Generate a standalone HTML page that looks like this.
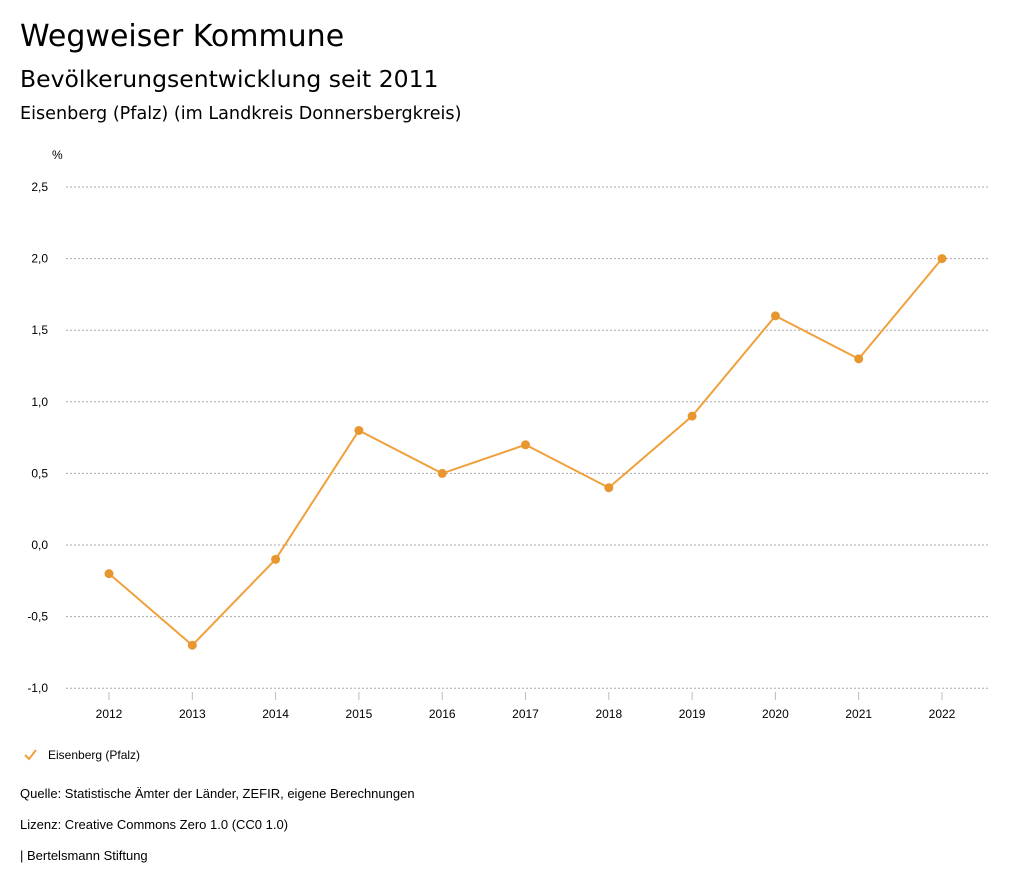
<!DOCTYPE html>
<html><head><meta charset="utf-8"><style>
body{margin:0;background:#fff;font-family:"Liberation Sans",sans-serif;color:#000}
.t{position:absolute;white-space:nowrap}
.d{font-family:"DejaVu Sans",sans-serif}
</style></head><body>
<div style="position:relative;width:1024px;height:888px;overflow:hidden">
<div class="t d" style="left:20px;top:19px;font-size:30px">Wegweiser Kommune</div>
<div class="t d" style="left:20px;top:65px;font-size:23.5px">Bevölkerungsentwicklung seit 2011</div>
<div class="t d" style="left:20px;top:104px;font-size:17.6px">Eisenberg (Pfalz) (im Landkreis Donnersbergkreis)</div>
<svg id="c" width="1024" height="888" style="position:absolute;left:0;top:0"></svg>
<div class="t" style="left:20px;top:786px;font-size:13px">Quelle: Statistische Ämter der Länder, ZEFIR, eigene Berechnungen</div>
<div class="t" style="left:20px;top:817px;font-size:13px">Lizenz: Creative Commons Zero 1.0 (CC0 1.0)</div>
<div class="t" style="left:20px;top:848px;font-size:13px">| Bertelsmann Stiftung</div>
</div>
<script>
const years=[2012,2013,2014,2015,2016,2017,2018,2019,2020,2021,2022];
const values=[-0.2,-0.7,-0.1,0.8,0.5,0.7,0.4,0.9,1.6,1.3,2.0];
const yTicks=[2.5,2.0,1.5,1.0,0.5,0.0,-0.5,-1.0];
const yTickLabels=["2,5","2,0","1,5","1,0","0,5","0,0","-0,5","-1,0"];
const NS="http://www.w3.org/2000/svg",svg=document.getElementById('c');
const x=i=>109+i*83.3;
const y=v=>545-v*143.2;
function mk(t,a){const e=document.createElementNS(NS,t);for(const k in a)e.setAttribute(k,a[k]);svg.appendChild(e);return e;}
const u=mk('text',{x:52,y:159,'font-size':12,'font-family':'Liberation Sans'});u.textContent='%';


yTicks.forEach((v,i)=>{
 const g=mk('line',{x1:66,x2:990,y1:y(v),y2:y(v),stroke:'#aaa','stroke-dasharray':'2,2','stroke-width':1});
 
 
 const t=mk('text',{x:48,y:y(v)+4,'text-anchor':'end','font-size':12,'font-family':'Liberation Sans'});t.textContent=yTickLabels[i];
 
 
});
years.forEach((yr,i)=>{
 const l=mk('line',{x1:x(i),x2:x(i),y1:692,y2:700,stroke:'#bbb'});
 
 
 const t=mk('text',{x:x(i),y:718,'text-anchor':'middle','font-size':12,'font-family':'Liberation Sans'});t.textContent=yr;
 
 
});
const p=mk('polyline',{points:values.map((v,i)=>x(i)+','+y(v)).join(' '),fill:'none',stroke:'#f0a03c','stroke-width':2});


values.forEach((v,i)=>{
 const c=mk('circle',{cx:x(i),cy:y(v),r:4.5,fill:'#e8962f'});
 
 
});
const ck=mk('polyline',{points:'25,755 29,759 36,750',fill:'none',stroke:'#f0a03c','stroke-width':2});


const lt=mk('text',{x:48,y:759,'font-size':12,'font-family':'Liberation Sans'});lt.textContent='Eisenberg (Pfalz)';


</script>
</body></html>
